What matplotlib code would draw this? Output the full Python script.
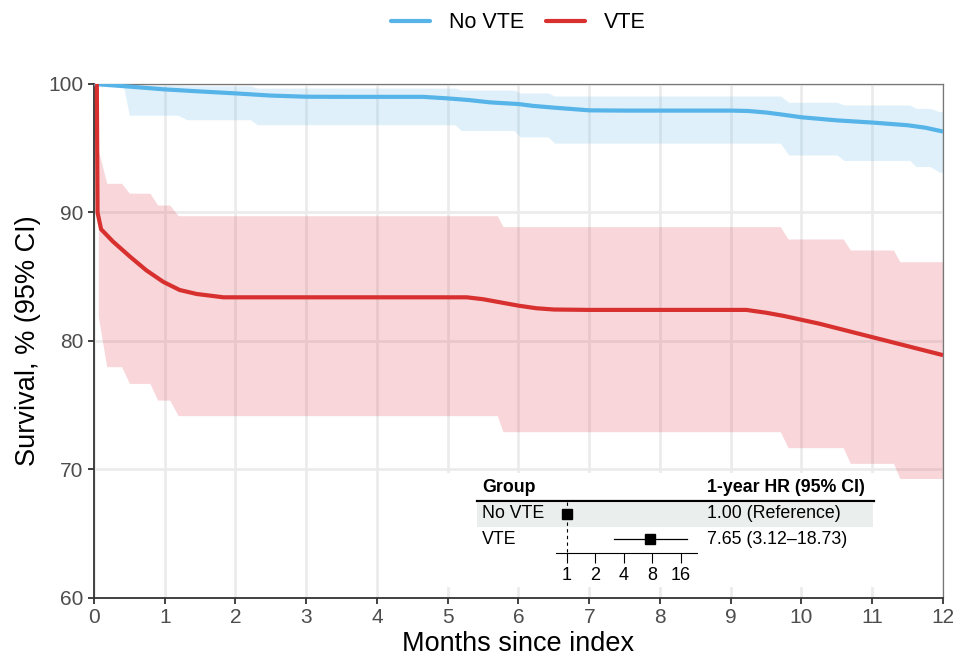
import matplotlib
matplotlib.use("Agg")
import matplotlib.pyplot as plt
from matplotlib.patches import Rectangle
from matplotlib.lines import Line2D

plt.rcParams["font.family"] = ["Liberation Sans", "DejaVu Sans"]

# ---- data ----
# survival curves (months, %)
novte_t = [0, 0.5, 1, 1.5, 2, 2.5, 3, 3.5, 4, 4.65, 5.0, 5.3, 5.6, 6.0, 6.2, 6.5,
           7.0, 7.5, 8.0, 8.5, 9.0, 9.25, 9.5, 9.7, 10.0, 10.5, 11.0, 11.5, 11.75, 12.0]
novte_s = [100, 99.8, 99.58, 99.42, 99.27, 99.1, 99.01, 99.0, 99.0, 99.0, 98.88, 98.75,
           98.57, 98.44, 98.3, 98.16, 97.95, 97.93, 97.93, 97.93, 97.93, 97.9, 97.78,
           97.64, 97.41, 97.17, 97.0, 96.79, 96.6, 96.3]

vte_t = [0.04, 0.05, 0.1, 0.27, 0.51, 0.74, 0.98, 1.21, 1.45, 1.83, 2.5, 3, 4, 5, 5.27,
         5.5, 5.75, 6.0, 6.25, 6.5, 7, 8, 9, 9.22, 9.5, 9.75, 10.0, 10.25, 10.5, 10.75,
         11.0, 11.25, 11.5, 11.75, 12.0]
vte_s = [100, 90.0, 88.7, 87.73, 86.56, 85.5, 84.6, 83.97, 83.66, 83.4, 83.4, 83.4, 83.4,
         83.4, 83.4, 83.25, 83.0, 82.75, 82.55, 82.45, 82.42, 82.42, 82.42, 82.42, 82.2,
         81.95, 81.65, 81.35, 81.0, 80.65, 80.3, 79.95, 79.6, 79.25, 78.9]

# 95% CI bands
novte_ci_t = [0, 0.41, 0.5, 1.19, 1.31, 2.21, 2.31, 5.1, 5.19, 5.94, 6.02, 6.42, 6.51,
              9.7, 9.82, 10.5, 10.6, 11.53, 11.62, 11.82, 11.95, 12]
novte_lo = [100, 100, 97.57, 97.57, 97.22, 97.22, 96.83, 96.83, 96.38, 96.38, 95.88,
            95.88, 95.4, 95.4, 94.47, 94.47, 94.05, 94.05, 93.57, 93.57, 93.13, 93.13]
novte_hi = [100, 100, 99.88, 99.88, 99.85, 99.85, 99.68, 99.68, 99.53, 99.53, 99.3,
            99.3, 99.07, 99.07, 98.58, 98.58, 98.37, 98.37, 98.1, 98.1, 97.85, 97.85]

vte_ci_t = [0.06, 0.18, 0.39, 0.5, 0.79, 0.9, 1.07, 1.19, 5.7, 5.78, 9.7, 9.81,
            10.59, 10.69, 11.3, 11.39, 12]
vte_lo = [81.9, 78.0, 78.0, 76.7, 76.7, 75.4, 75.4, 74.19, 74.19, 72.94, 72.94, 71.7,
          71.7, 70.48, 70.48, 69.3, 69.3]
vte_hi = [94.86, 92.27, 92.27, 91.5, 91.5, 90.58, 90.58, 89.75, 89.75, 88.9, 88.9,
          87.94, 87.94, 87.08, 87.08, 86.17, 86.17]

# hazard ratio table
groups = ["No VTE", "VTE"]
hr = [1.00, 7.65]
hr_lo = [1.00, 3.12]
hr_hi = [1.00, 18.73]
hr_text = ["1.00 (Reference)", "7.65 (3.12\u201318.73)"]
forest_ticks = [1, 2, 4, 8, 16]

BLUE = "#56B4E9"
RED = "#D7302F"

W, H = 954, 658
fig = plt.figure(figsize=(W / 100, H / 100), dpi=100)


def box(x0, y0, x1, y1):
    # pixel box (top-left origin) -> figure fraction rect
    return [x0 / W, 1 - y1 / H, (x1 - x0) / W, (y1 - y0) / H]


ax = fig.add_axes(box(94, 84, 943, 598))

ax.fill_between(novte_ci_t, novte_lo, novte_hi, color=BLUE, alpha=0.19, lw=0, zorder=1)
ax.fill_between(vte_ci_t, vte_lo, vte_hi, color="#DC3545", alpha=0.2, lw=0, zorder=1)
ax.plot(novte_t, novte_s, color=BLUE, lw=3, label="No VTE", zorder=3,
        solid_capstyle="butt")
ax.plot(vte_t, vte_s, color=RED, lw=3, label="VTE", zorder=3, solid_capstyle="butt")

ax.set_xlim(0, 12)
ax.set_ylim(60, 100)
ax.set_xticks(range(0, 13))
ax.set_yticks([60, 70, 80, 90, 100])
ax.grid(True, color="#EBEBEB", lw=1.9, zorder=0)
ax.set_axisbelow(True)
ax.tick_params(labelsize=15, labelcolor="#4D4D4D", length=4, width=1.3, color="#333333")

for side in ["top", "right"]:
    ax.spines[side].set_color("#777777")
    ax.spines[side].set_linewidth(0.9)
for side in ["left", "bottom"]:
    ax.spines[side].set_color("#333333")
    ax.spines[side].set_linewidth(1.3)

ax.set_xlabel("Months since index", fontsize=19.5)
ax.set_ylabel("Survival, % (95% CI)", fontsize=19.5)
ax.xaxis.set_label_coords(0.5, -(644 - 598) / 514)
ax.xaxis.label.set_va("center")
ax.yaxis.set_label_coords(-(94 - 28) / 849, 0.5)
ax.yaxis.label.set_va("center")

leg = ax.legend(loc="center", bbox_to_anchor=(0.5, 1 + (84 - 23) / 514), ncol=2,
                frameon=False, fontsize=15.5, handlelength=1.8, handletextpad=0.9,
                columnspacing=1.0)
for h in leg.get_lines():
    h.set_linewidth(3)
    h.set_solid_capstyle("round")

# ---- inset table ----
tx0, ty0, tx1, ty1 = 445, 473, 880, 587
tab = fig.add_axes(box(tx0, ty0, tx1, ty1), zorder=2)
tab.set_xlim(tx0, tx1)
tab.set_ylim(ty1, ty0)
tab.set_xticks([])
tab.set_yticks([])
for s in tab.spines.values():
    s.set_visible(False)
tab.set_facecolor("white")

row_y = [514, 539]
tab.add_patch(Rectangle((477, 503), 396, 24, color="#EAEFED", lw=0))
tab.add_line(Line2D([477, 874], [501, 501], color="black", lw=1.6))
tab.text(482, 488, "Group", fontsize=12.8, fontweight="bold", va="center", ha="left")
tab.text(707, 488, "1-year HR (95% CI)", fontsize=12.8, fontweight="bold",
         va="center", ha="left")
for g, t, yy in zip(groups, hr_text, row_y):
    tab.text(482, yy, g, fontsize=12.8, va="center", ha="left")
    tab.text(707, yy, t, fontsize=12.8, va="center", ha="left")

# forest plot on log2 scale
fx0, fx1 = 556, 697
fst = fig.add_axes(box(fx0, 500, fx1, 553), zorder=3)
fst.patch.set_alpha(0)
fst.set_xscale("log", base=2)
fst.set_xlim(2 ** ((fx0 - 567) / 28.4), 2 ** ((fx1 - 567) / 28.4))
fst.set_ylim(1.56, -0.56)
fst.vlines(1, -0.48, 1.56, colors="black", lw=0.8, linestyles=(0, (3, 3)))
for i in range(len(groups)):
    if hr_lo[i] != hr_hi[i]:
        fst.plot([hr_lo[i], hr_hi[i]], [i, i], color="black", lw=0.9)
    fst.plot(hr[i], i, marker="s", ms=6.5, color="black", ls="none")
fst.set_xticks(forest_ticks)
fst.set_xticklabels([str(v) for v in forest_ticks])
fst.xaxis.set_minor_locator(matplotlib.ticker.NullLocator())
fst.set_yticks([])
for s in ["top", "right", "left"]:
    fst.spines[s].set_visible(False)
fst.spines["bottom"].set_linewidth(0.8)
fst.tick_params(axis="x", length=7.5, width=0.8, labelsize=13, pad=2.5)

fig.savefig("out.png", dpi=100)
